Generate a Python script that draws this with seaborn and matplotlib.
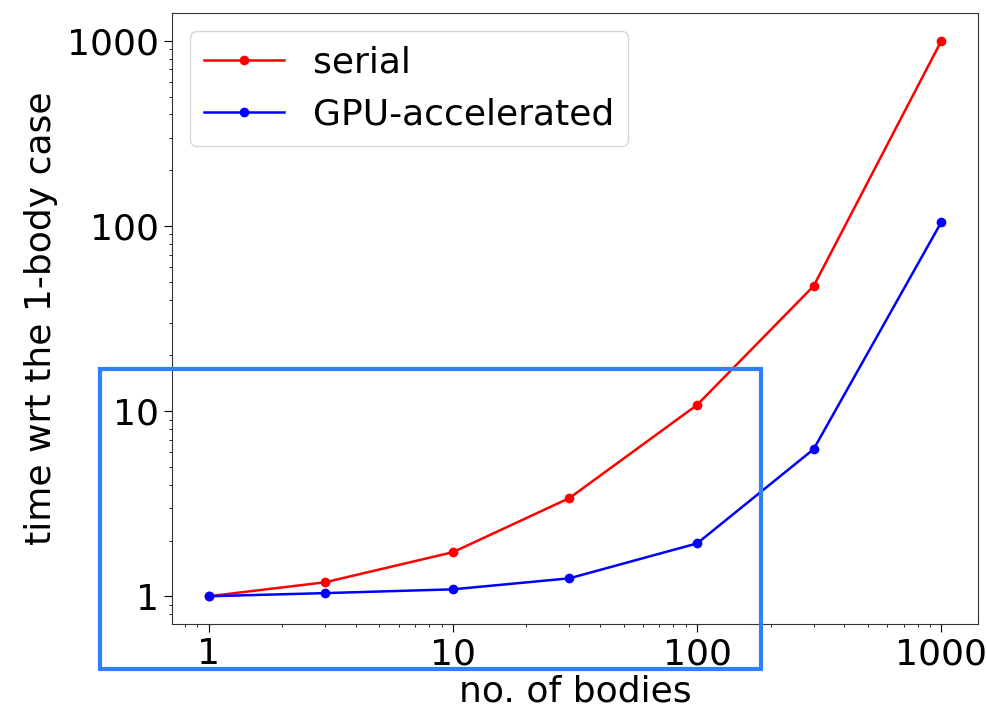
import numpy as np
import pandas as pd
import matplotlib
matplotlib.use("Agg")
import matplotlib.pyplot as plt
import matplotlib.patches as mpatches
import seaborn as sns

bodies = [1, 3, 10, 30, 100, 300, 1000]
serial = [1.0, 1.19, 1.73, 3.39, 10.8, 47.4, 1000.0]
gpu = [1.0, 1.04, 1.09, 1.25, 1.93, 6.23, 105.0]
series_names = ["serial", "GPU-accelerated"]
colors = ["#ff0000", "#0000ff"]

df = pd.DataFrame({
    "bodies": bodies * 2,
    "time": serial + gpu,
    "series": [series_names[0]] * len(bodies) + [series_names[1]] * len(bodies),
})

plt.rcParams['font.family'] = ['DejaVu Sans']
fig = plt.figure(figsize=(9.86, 7.08), dpi=100)
ax = fig.add_axes([0.1744, 0.1186, 0.8175, 0.863])

sns.lineplot(data=df, x="bodies", y="time", hue="series", palette=colors,
             marker="o", markersize=7, markeredgewidth=0, linewidth=1.8,
             ax=ax, hue_order=series_names)
ax.set_xscale("log")
ax.set_yscale("log")
ax.margins(0.05)
ax.set_xticks([1, 10, 100, 1000])
ax.set_xticklabels(["1", "10", "100", "1000"])
ax.set_yticks([1, 10, 100, 1000])
ax.set_yticklabels(["1", "10", "100", "1000"])
ax.tick_params(axis="both", which="major", labelsize=26, length=6)
ax.set_xlabel("no. of bodies", fontsize=26, labelpad=2)
ax.set_ylabel("time wrt the 1-body case", fontsize=26, labelpad=6)
for s in ax.spines.values():
    s.set_color("#333333")
leg = ax.legend(loc="upper left", fontsize=26, title=None, handlelength=2.2)

rect = mpatches.Rectangle((100 / 986, 1 - 669 / 708), (761 - 100) / 986, (669 - 369) / 708,
                          transform=fig.transFigure, fill=False, edgecolor="#2f80ff",
                          linewidth=3, zorder=10)
fig.patches.append(rect)

fig.savefig("out.png", dpi=100)
